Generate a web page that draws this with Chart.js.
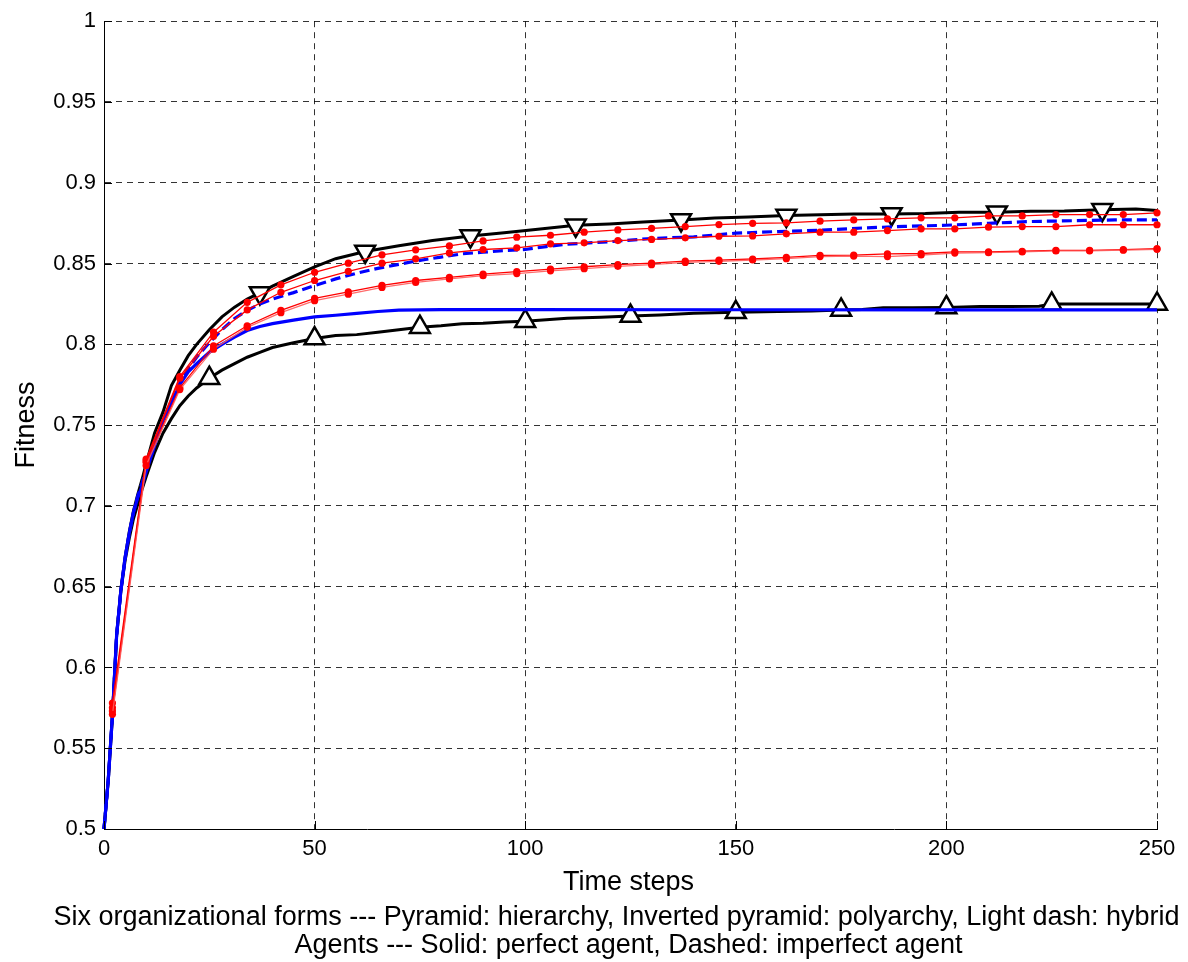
<!DOCTYPE html>
<html>
<head>
<meta charset="utf-8">
<title>Fitness over time steps</title>
<script src="https://cdn.jsdelivr.net/npm/chart.js@4.4.0/dist/chart.umd.min.js"></script>
<style>
  html, body { margin: 0; padding: 0; background: #ffffff; }
  #wrap { width: 1188px; height: 962px; position: relative; }
</style>
</head>
<body>
<div id="wrap"><canvas id="fitnessChart" width="1188" height="962"></canvas></div>
<script>
// ---- Axis ticks ----
const xTickValues = [0, 50, 100, 150, 200, 250];
const xTickLabels = ['0', '50', '100', '150', '200', '250'];
const yTickLabels = ['0.5', '0.55', '0.6', '0.65', '0.7', '0.75', '0.8', '0.85', '0.9', '0.95', '1'];

// ---- Hierarchy (pyramid), perfect agent: black line, upward triangles ----
const hierarchySteps = [0, 1, 2, 3, 4, 5, 6, 7, 8, 9, 10, 12, 14, 16, 18, 20, 22, 25, 28, 31, 34, 37, 40, 45, 50,
  55, 60, 65, 70, 75, 80, 85, 90, 95, 100, 110, 118, 125, 132, 140, 150, 160, 168, 175, 180, 185, 192, 200,
  208, 215, 222, 225, 230, 240, 250];
const hierarchyFitness = [0.5, 0.53, 0.57, 0.62, 0.647, 0.666, 0.68, 0.692, 0.701, 0.71, 0.718, 0.733, 0.745,
  0.754, 0.762, 0.768, 0.773, 0.779, 0.784, 0.788, 0.792, 0.795, 0.798, 0.801, 0.8036,
  0.8055, 0.806, 0.8075, 0.809, 0.8106, 0.8115, 0.8127, 0.813, 0.8138, 0.8143, 0.8162, 0.8167, 0.8175, 0.8182,
  0.8193, 0.8198, 0.8203, 0.8207, 0.8213, 0.8215, 0.8226, 0.8226, 0.8228,
  0.8234, 0.8234, 0.8236, 0.825, 0.825, 0.825, 0.825];
const hierarchyMarkers = [25, 50, 75, 100, 125, 150, 175, 200, 225, 250];

// ---- Polyarchy (inverted pyramid), perfect agent: black line, downward triangles ----
const polyarchySteps = [0, 1, 2, 3, 4, 5, 6, 7, 8, 9, 10, 12, 14, 16, 18, 20, 22, 25, 28, 31, 34, 37, 40, 45, 50,
  55, 62, 70, 78, 87, 95, 103, 112, 120, 128, 137, 145, 153, 162, 170, 178, 187, 195, 203, 212, 220, 228, 237,
  245, 250];
const polyarchyFitness = [0.5, 0.53, 0.57, 0.62, 0.648, 0.668, 0.684, 0.697, 0.707, 0.716, 0.726, 0.745, 0.758,
  0.7745, 0.784, 0.793, 0.8, 0.809, 0.817, 0.823, 0.828, 0.8318, 0.836, 0.842, 0.848,
  0.853, 0.8575, 0.861, 0.8642, 0.867, 0.869, 0.8712, 0.8737, 0.8745, 0.8757, 0.877, 0.8782, 0.8788, 0.8797,
  0.8802, 0.8807, 0.8807, 0.8809, 0.8817, 0.8818, 0.8823, 0.8825, 0.8833, 0.8838, 0.8828];
const polyarchyMarkers = [37, 62, 87, 112, 137, 162, 187, 212, 237];

// ---- Agent curves (blue): solid = perfect agent, dashed = imperfect agent ----
const agentSolidSteps = [0, 1, 2, 3, 4, 5, 6, 7, 8, 9, 10, 12, 14, 16, 18, 20, 22, 25, 28, 31, 34, 37, 40, 45, 50,
  55, 60, 65, 70, 80, 100, 150, 200, 250];
const agentSolidFitness = [0.5, 0.53, 0.57, 0.62, 0.6475, 0.668, 0.683, 0.696, 0.705, 0.712, 0.721, 0.737, 0.753,
  0.764, 0.775, 0.783, 0.788, 0.795, 0.8, 0.8045, 0.8085, 0.811, 0.8128, 0.815, 0.817,
  0.818, 0.8192, 0.8203, 0.8212, 0.8215, 0.8215, 0.8214, 0.8213, 0.8213];

const agentDashedSteps = [0, 1, 2, 3, 4, 5, 6, 7, 8, 9, 10, 12, 14, 16, 18, 20, 22, 25, 28, 31, 34, 37, 40, 45, 50,
  55, 60, 65, 70, 75, 80, 85, 90, 95, 100, 105, 110, 120, 130, 140, 150, 160, 170, 180, 190, 200, 210, 220,
  230, 240, 250];
const agentDashedFitness = [0.5, 0.53, 0.57, 0.62, 0.6475, 0.667, 0.683, 0.696, 0.706, 0.714, 0.722, 0.738, 0.753,
  0.765, 0.776, 0.785, 0.792, 0.801, 0.809, 0.816, 0.821, 0.825, 0.828, 0.832, 0.8364,
  0.8405, 0.844, 0.847, 0.8495, 0.852, 0.854, 0.856, 0.857, 0.858, 0.8587, 0.8605, 0.862, 0.8635, 0.8655,
  0.8665, 0.8688, 0.8698, 0.8706, 0.872, 0.873, 0.8737, 0.8749, 0.876, 0.8765, 0.877, 0.877];

// ---- Hybrid forms (light red lines with dots) ----
const hybridSteps = [2, 10, 18, 26, 34, 42, 50, 58, 66, 74, 82, 90, 98, 106, 114, 122, 130, 138, 146, 154, 162,
  170, 178, 186, 194, 202, 210, 218, 226, 234, 242, 250];
const hybridA = [0.578, 0.729, 0.78, 0.8075, 0.826, 0.8368, 0.8446, 0.8502, 0.8554, 0.8585, 0.8609, 0.864,
  0.8663, 0.8675, 0.8694, 0.8708, 0.8718, 0.8729, 0.8741, 0.8749, 0.8752, 0.8762, 0.877, 0.8777, 0.8783,
  0.8783, 0.8795, 0.8795, 0.8803, 0.8803, 0.8803, 0.8814];
const hybridB = [0.575, 0.728, 0.779, 0.805, 0.8213, 0.8322, 0.8395, 0.8452, 0.8502, 0.8529, 0.8566, 0.8587,
  0.8597, 0.8622, 0.8628, 0.8642, 0.8649, 0.8659, 0.8669, 0.8671, 0.8684, 0.8694, 0.8694, 0.8704, 0.8715,
  0.8715, 0.8725, 0.8729, 0.8729, 0.874, 0.874, 0.874];
const hybridC = [0.573, 0.727, 0.773, 0.799, 0.8115, 0.821, 0.8285, 0.8325, 0.8365, 0.8395, 0.8415, 0.8435,
  0.845, 0.8465, 0.848, 0.8493, 0.8503, 0.8515, 0.8521, 0.8528, 0.8538, 0.855, 0.8552, 0.856, 0.8562,
  0.8572, 0.8572, 0.8576, 0.8581, 0.8581, 0.8586, 0.8592];
const hybridD = [0.571, 0.725, 0.772, 0.797, 0.8105, 0.8196, 0.827, 0.831, 0.8352, 0.8383, 0.8405, 0.8425,
  0.8438, 0.8455, 0.8468, 0.8483, 0.8493, 0.8507, 0.8514, 0.8522, 0.853, 0.8543, 0.8546, 0.8543, 0.8553,
  0.8565, 0.8567, 0.8572, 0.8578, 0.8579, 0.8583, 0.8588];

// ---- Text ----
const yTitle = 'Fitness';
const xTitle = 'Time steps';
const captionLines = [
  'Six organizational forms --- Pyramid: hierarchy, Inverted pyramid: polyarchy, Light dash: hybrid',
  'Agents --- Solid: perfect agent, Dashed: imperfect agent'
];

const FONT = '"Liberation Sans", Arial, Helvetica, sans-serif';

function pairs(xs, ys) { return xs.map((x, i) => ({ x: x, y: ys[i] })); }

function markerRadius(xs, marks, r) {
  return (ctx) => (marks.includes(xs[ctx.dataIndex]) ? r : 0);
}

function hybridDataset(values, color) {
  return {
    data: pairs(hybridSteps, values),
    borderColor: color,
    borderWidth: 1.3,
    pointRadius: 3.6,
    pointBackgroundColor: '#ff0000',
    pointBorderWidth: 0,
    pointStyle: 'circle',
    order: 0,
    clip: false
  };
}

// MATLAB-style inward tick marks plus axis titles and caption
const decorations = {
  id: 'decorations',
  afterDraw(chart) {
    const { ctx, chartArea, scales } = chart;
    const xs = scales.x, ys = scales.y;
    ctx.save();
    ctx.strokeStyle = '#000000';
    ctx.lineWidth = 1;
    ctx.beginPath();
    ys.ticks.forEach((t) => {
      const py = Math.round(ys.getPixelForValue(t.value)) + 0.5;
      ctx.moveTo(chartArea.left, py);
      ctx.lineTo(chartArea.left + 8, py);
    });
    xs.ticks.forEach((t) => {
      const px = Math.round(xs.getPixelForValue(t.value)) + 0.5;
      ctx.moveTo(px, chartArea.bottom);
      ctx.lineTo(px, chartArea.bottom - 8);
    });
    ctx.stroke();

    ctx.fillStyle = '#000000';
    ctx.font = '27px ' + FONT;
    ctx.textAlign = 'center';
    ctx.textBaseline = 'alphabetic';
    const cx = (chartArea.left + chartArea.right) / 2 - 2;
    ctx.fillText(xTitle, cx, chartArea.bottom + 61);
    ctx.fillText(captionLines[0], cx - 12, chartArea.bottom + 96);
    ctx.fillText(captionLines[1], cx, chartArea.bottom + 124);

    ctx.translate(34, (chartArea.top + chartArea.bottom) / 2);
    ctx.rotate(-Math.PI / 2);
    ctx.fillText(yTitle, 0, 0);
    ctx.restore();
  }
};

new Chart(document.getElementById('fitnessChart'), {
  type: 'line',
  data: {
    datasets: [
      {
        data: pairs(agentSolidSteps, agentSolidFitness),
        borderColor: '#0000ff',
        borderWidth: 3.2,
        pointRadius: 0,
        order: 1,
        clip: false
      },
      {
        data: pairs(hierarchySteps, hierarchyFitness),
        borderColor: '#000000',
        borderWidth: 3,
        pointStyle: 'triangle',
        pointRadius: markerRadius(hierarchySteps, hierarchyMarkers, 11.5),
        pointBorderColor: '#000000',
        pointBackgroundColor: '#ffffff',
        pointBorderWidth: 2.5,
        order: 3,
        clip: false
      },
      {
        data: pairs(agentDashedSteps, agentDashedFitness),
        borderColor: '#0000ff',
        borderWidth: 3.2,
        borderDash: [10, 5],
        pointRadius: 0,
        order: 2,
        clip: false
      },
      {
        data: pairs(polyarchySteps, polyarchyFitness),
        borderColor: '#000000',
        borderWidth: 3,
        pointStyle: 'triangle',
        pointRotation: 180,
        pointRadius: markerRadius(polyarchySteps, polyarchyMarkers, 11.5),
        pointBorderColor: '#000000',
        pointBackgroundColor: '#ffffff',
        pointBorderWidth: 2.5,
        order: 4,
        clip: false
      },
      hybridDataset(hybridD, 'rgba(255, 90, 90, 0.9)'),
      hybridDataset(hybridC, '#ff0000'),
      hybridDataset(hybridB, '#ff0000'),
      hybridDataset(hybridA, '#ff0000')
    ]
  },
  options: {
    responsive: false,
    devicePixelRatio: 1,
    animation: false,
    events: [],
    layout: { padding: { left: 0, top: 21, right: 31, bottom: 0 } },
    plugins: {
      legend: { display: false },
      tooltip: { enabled: false },
      title: { display: false }
    },
    elements: { line: { tension: 0 } },
    scales: {
      x: {
        type: 'linear',
        min: 0,
        max: 250,
        afterBuildTicks(scale) { scale.ticks = xTickValues.map((v) => ({ value: v })); },
        afterFit(scale) { scale.height = 133; },
        ticks: {
          color: '#000000',
          font: { family: FONT, size: 22 },
          padding: 7,
          maxRotation: 0,
          callback(value, index) { return xTickLabels[index]; }
        },
        grid: { color: 'rgba(0,0,0,0.8)', lineWidth: 1, drawTicks: false },
        border: { display: true, color: '#000000', width: 1, dash: [6, 5] }
      },
      y: {
        type: 'linear',
        min: 0.5,
        max: 1,
        afterBuildTicks(scale) { scale.ticks = yTickLabels.map((s) => ({ value: parseFloat(s) })); },
        afterFit(scale) { scale.width = 104; },
        ticks: {
          color: '#000000',
          font: { family: FONT, size: 22 },
          padding: 8,
          callback(value, index) { return yTickLabels[index]; }
        },
        grid: { color: 'rgba(0,0,0,0.8)', lineWidth: 1, drawTicks: false },
        border: { display: true, color: '#000000', width: 1, dash: [6, 5] }
      }
    }
  },
  plugins: [decorations]
});
</script>
</body>
</html>
